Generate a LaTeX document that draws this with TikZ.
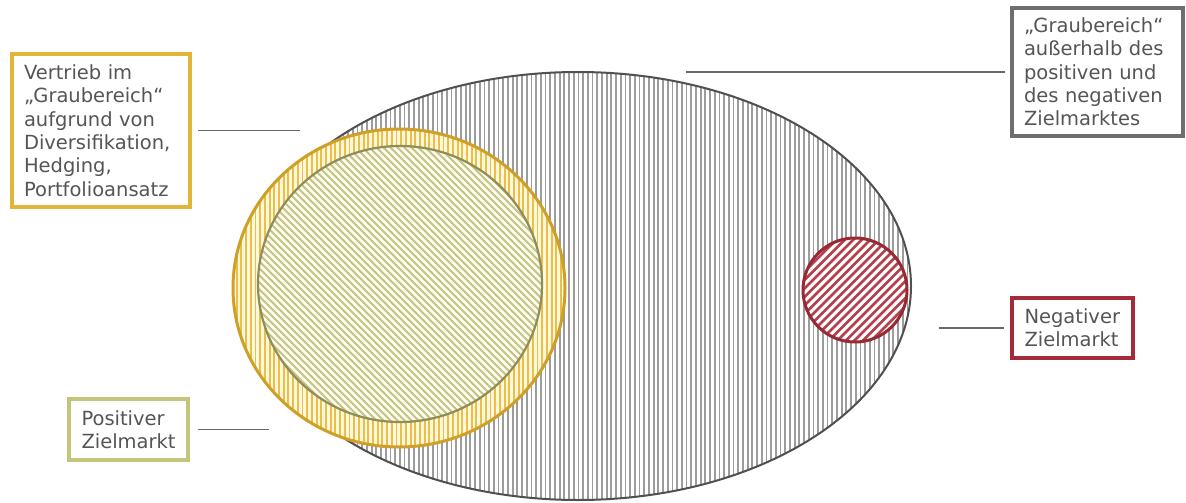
\documentclass[tikz,border=0pt]{standalone}
\usepackage{fontspec}
\setmainfont{DejaVu Sans}
\definecolor{txt}{HTML}{555555}
\definecolor{goldbox}{HTML}{E2B53A}
\definecolor{goldline}{HTML}{CFA028}
\definecolor{goldstripe}{HTML}{EDBE45}
\definecolor{goldfill}{HTML}{FFF8DC}
\definecolor{olivebox}{HTML}{C4C47A}
\definecolor{oliveline}{HTML}{8E8E58}
\definecolor{olivestripe}{HTML}{C4C488}
\definecolor{olivefill}{HTML}{FEFCEC}
\definecolor{redbox}{HTML}{A52A3A}
\definecolor{redline}{HTML}{982A35}
\definecolor{redstripe}{HTML}{B3404C}
\definecolor{graybox}{HTML}{6E6E6E}
\definecolor{ellline}{HTML}{505050}
\definecolor{ellstripe}{HTML}{9C9C9C}
\definecolor{conncol}{HTML}{6A6A6A}
\tikzset{
  label box/.style={draw, line width=3.8pt, fill=white, text=txt, align=left,
    font=\fontsize{19.5}{23.3}\selectfont, inner ysep=0pt},
  conn/.style={draw=conncol, line width=1.5pt},
}
\begin{document}
\begin{tikzpicture}[x=1pt,y=-1pt]
\useasboundingbox (0,0) rectangle (1186,503);
% big ellipse
\begin{scope}
  \clip (578,286) ellipse [x radius=333, y radius=214];
  \fill[white] (240,60) rectangle (920,510);
  \foreach \x in {240,244.7,...,916}
    \draw[ellstripe, line width=1.8pt] (\x,60) -- (\x,510);
\end{scope}
\draw[ellline, line width=2pt] (578,286) ellipse [x radius=333, y radius=214];
% yellow ring
\begin{scope}
  \clip (399,288) ellipse [x radius=166, y radius=159];
  \fill[goldfill] (230,125) rectangle (570,450);
  \foreach \x in {232,236.7,...,566}
    \draw[goldstripe, line width=1.9pt] (\x,125) -- (\x,450);
\end{scope}
\draw[goldline, line width=3pt] (399,288) ellipse [x radius=166, y radius=159];
% positive target market
\begin{scope}
  \clip (400,284) ellipse [x radius=142, y radius=138];
  \fill[olivefill] (255,144) rectangle (545,425);
  \foreach \k in {-300,-293,...,300}
    \draw[olivestripe, line width=1.8pt] (400+\k-160,284-160) -- (400+\k+160,284+160);
\end{scope}
\draw[oliveline, line width=2.2pt] (400,284) ellipse [x radius=142, y radius=138];
% negative target market
\begin{scope}
  \clip (855,290) circle [radius=52];
  \fill[white] (800,235) rectangle (910,345);
  \foreach \k in {-120,-111.5,...,120}
    \draw[redstripe, line width=2.6pt] (855+\k-60,290+60) -- (855+\k+60,290-60);
\end{scope}
\draw[redline, line width=3pt] (855,290) circle [radius=52];
% label boxes
\node[label box, draw=goldbox, text width=154pt, inner xsep=12pt, minimum height=153pt] (b1) at (101,130.5)
  {Vertrieb im\\„Graubereich“\\aufgrund von\\Diversifikation,\\Hedging,\\Portfolioansatz};
\node[label box, draw=graybox, text width=147pt, inner xsep=12pt, minimum height=128pt] (b2) at (1097.5,72)
  {„Graubereich“\\außerhalb des\\positiven und\\des negativen\\Zielmarktes};
\node[label box, draw=redbox, line width=3.4pt, text width=96pt, inner xsep=12.5pt, minimum height=60pt] (b3) at (1072.5,328)
  {Negativer\\Zielmarkt};
\node[label box, draw=olivebox, line width=3.4pt, text width=94pt, inner xsep=12.5pt, minimum height=61pt] (b4) at (128.5,429.5)
  {Positiver\\Zielmarkt};
% connectors
\coordinate (c1) at (300,130.5);
\coordinate (c2) at (686,72);
\coordinate (c3) at (939,328);
\coordinate (c4) at (269,429.5);
\draw[conn, shorten <=6pt] (b1.east) -- (c1);
\draw[conn, shorten >=5pt] (c2) -- (b2.west);
\draw[conn, shorten >=6pt] (c3) -- (b3.west);
\draw[conn, shorten <=8pt] (b4.east) -- (c4);
\end{tikzpicture}
\end{document}
